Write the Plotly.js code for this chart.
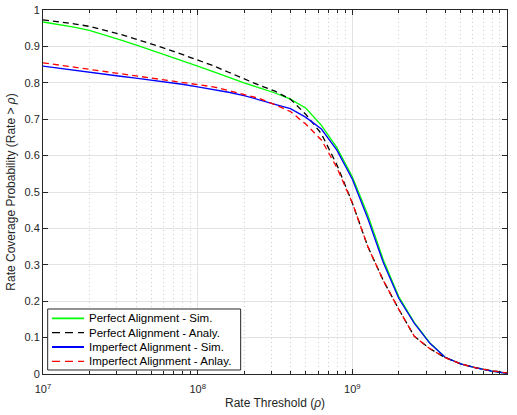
<!DOCTYPE html>
<html>
<head>
<meta charset="utf-8">
<script src="https://cdn.plot.ly/plotly-3.0.1.min.js"></script>
<style>html,body{margin:0;padding:0;background:#fff;}#chart{width:517px;height:415px;}</style>
</head>
<body>
<div id="chart"></div>
<script>
// Rate threshold (bps), 10 points per decade
const rateThreshold = [
  1e7, 1.259e7, 1.585e7, 1.995e7, 2.512e7, 3.162e7, 3.981e7, 5.012e7, 6.310e7, 7.943e7,
  1e8, 1.259e8, 1.585e8, 1.995e8, 2.512e8, 3.162e8, 3.981e8, 5.012e8, 6.310e8, 7.943e8,
  1e9, 1.259e9, 1.585e9, 1.995e9, 2.512e9, 3.162e9, 3.981e9, 5.012e9, 6.310e9, 7.943e9,
  1e10
];
const perfectSim = [
  0.967, 0.961, 0.953, 0.944, 0.932, 0.918, 0.904, 0.890, 0.876, 0.861,
  0.846, 0.831, 0.815, 0.800, 0.786, 0.772, 0.755, 0.730, 0.683, 0.622,
  0.542, 0.437, 0.314, 0.213, 0.142, 0.086, 0.046, 0.028, 0.017, 0.008,
  0.002
];
const perfectAnaly = [
  0.973, 0.968, 0.962, 0.955, 0.945, 0.933, 0.920, 0.907, 0.893, 0.878,
  0.863, 0.847, 0.829, 0.810, 0.793, 0.777, 0.755, 0.713, 0.660, 0.575,
  0.470, 0.350, 0.257, 0.178, 0.104, 0.070, 0.045, 0.028, 0.017, 0.009,
  0.003
];
const imperfectSim = [
  0.846, 0.840, 0.835, 0.829, 0.824, 0.818, 0.813, 0.808, 0.802, 0.796,
  0.789, 0.782, 0.774, 0.765, 0.754, 0.741, 0.729, 0.705, 0.673, 0.615,
  0.535, 0.427, 0.306, 0.208, 0.140, 0.085, 0.046, 0.028, 0.017, 0.008,
  0.002
];
const imperfectAnaly = [
  0.855, 0.849, 0.843, 0.837, 0.831, 0.825, 0.820, 0.815, 0.809, 0.803,
  0.797, 0.789, 0.779, 0.769, 0.757, 0.740, 0.721, 0.686, 0.643, 0.567,
  0.470, 0.350, 0.257, 0.178, 0.104, 0.070, 0.045, 0.028, 0.017, 0.009,
  0.003
];
const seriesNames = [
  'Perfect Alignment - Sim.',
  'Perfect Alignment - Analy.',
  'Imperfect Alignment - Sim.',
  'Imperfect Alignment - Anlay.'
];
const xTickVals = [1e7, 1e8, 1e9, 1e10];
const xTickText = ['10<sup>7</sup>', '10<sup>8</sup>', '10<sup>9</sup>', '10<sup>10</sup>'];
const xMinorVals = [
  2e7,3e7,4e7,5e7,6e7,7e7,8e7,9e7,
  2e8,3e8,4e8,5e8,6e8,7e8,8e8,9e8,
  2e9,3e9,4e9,5e9,6e9,7e9,8e9,9e9
];

const FONT = 'Liberation Sans, Arial, Helvetica, sans-serif';
const AX = '#262626';
const GRID = '#e3e3e3';
const DASH = '6px,4px';

const traces = [
  {x: rateThreshold, y: perfectSim, name: seriesNames[0], mode: 'lines',
   line: {color: '#00ff00', width: 1.3}},
  {x: rateThreshold, y: perfectAnaly, name: seriesNames[1], mode: 'lines',
   line: {color: '#000000', width: 1.3, dash: DASH}},
  {x: rateThreshold, y: imperfectSim, name: seriesNames[2], mode: 'lines',
   line: {color: '#0000ff', width: 1.3}},
  {x: rateThreshold, y: imperfectAnaly, name: seriesNames[3], mode: 'lines',
   line: {color: '#ff0000', width: 1.3, dash: DASH}}
];

// Compact MATLAB-style legend box (paper coordinates), built from the traces
const legendBox = {x0: 0.0101, x1: 0.426, y0: 0.011, y1: 0.1786};
const legendRowY = [0.153, 0.1135, 0.0742, 0.0349];
const shapes = [{
  type: 'rect', xref: 'paper', yref: 'paper', layer: 'above',
  x0: legendBox.x0, x1: legendBox.x1, y0: legendBox.y0, y1: legendBox.y1,
  fillcolor: '#ffffff', line: {color: AX, width: 1}
}];
const annotations = [];
traces.forEach((t, i) => {
  shapes.push({
    type: 'line', xref: 'paper', yref: 'paper', layer: 'above',
    x0: 0.0194, x1: 0.0884, y0: legendRowY[i], y1: legendRowY[i],
    line: {color: t.line.color, width: t.line.dash ? 1.3 : 1.8, dash: t.line.dash ? '8px,5px' : 'solid'}
  });
  annotations.push({
    xref: 'paper', yref: 'paper', x: 0.095, y: legendRowY[i],
    xanchor: 'left', yanchor: 'middle', showarrow: false,
    text: t.name, font: {family: FONT, size: 11.5, color: '#000'}
  });
});

const layout = {
  width: 517, height: 415,
  margin: {l: 43, r: 10, t: 10, b: 41},
  paper_bgcolor: '#ffffff', plot_bgcolor: '#ffffff',
  font: {family: FONT, size: 11, color: AX},
  showlegend: false,
  shapes: shapes,
  annotations: annotations,
  xaxis: {
    type: 'log', range: [7, 10],
    tickmode: 'array', tickvals: xTickVals, ticktext: xTickText,
    ticks: 'inside', ticklen: 5, tickcolor: AX, tickwidth: 1,
    ticklabelstandoff: 5,
    showline: true, linecolor: AX, linewidth: 1, mirror: 'allticks',
    showgrid: true, gridcolor: GRID, gridwidth: 1,
    zeroline: false,
    tickfont: {family: FONT, size: 11, color: AX},
    minor: {tickmode: 'array', tickvals: xMinorVals, ticks: 'inside', ticklen: 3,
            tickcolor: AX, showgrid: true, gridcolor: '#cfcfcf', griddash: '1px,3px', gridwidth: 1},
    title: {text: 'Rate Threshold (<i>ρ</i>)', font: {family: FONT, size: 12, color: AX}, standoff: 4},
    automargin: false
  },
  yaxis: {
    range: [0, 1], dtick: 0.1, tick0: 0,
    ticks: 'inside', ticklen: 5, tickcolor: AX, tickwidth: 1,
    showline: true, linecolor: AX, linewidth: 1, mirror: 'allticks',
    showgrid: true, gridcolor: GRID, gridwidth: 1,
    zeroline: false,
    tickfont: {family: FONT, size: 11, color: AX},
    title: {text: 'Rate Coverage Probability (Rate &gt; <i>ρ</i>)', font: {family: FONT, size: 12, color: AX}, standoff: 6},
    automargin: false
  }
};

Plotly.newPlot('chart', traces, layout, {displayModeBar: false, staticPlot: true});
</script>
</body>
</html>
